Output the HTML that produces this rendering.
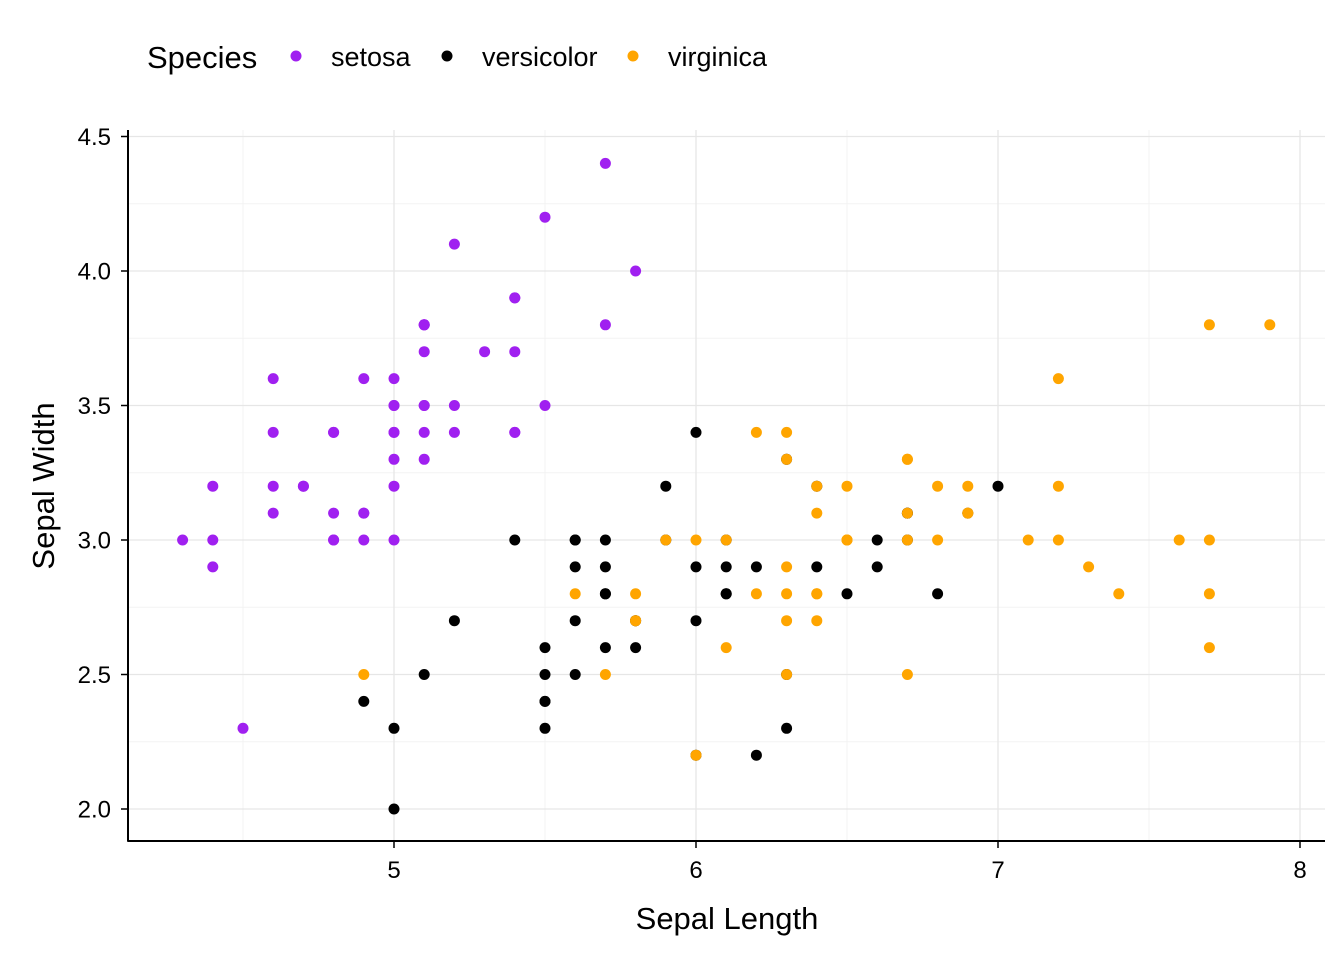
<!DOCTYPE html>
<html><head><meta charset="utf-8"><style>
html,body{margin:0;padding:0;background:#fff;}
svg{display:block;font-family:"Liberation Sans",Arial,sans-serif;}
</style></head><body>
<svg id="chart" width="1344" height="960">
  <g id="grid"></g>
  <g id="points"></g>
  <g id="axes"></g>
  <text x="727" y="929" font-size="31" text-anchor="middle" fill="#000">Sepal Length</text>
  <text transform="translate(54,486) rotate(-90)" font-size="31" text-anchor="middle" fill="#000">Sepal Width</text>
  <g>
    <text x="147" y="68" font-size="31" fill="#000">Species</text>
    <circle cx="296" cy="56" r="5.5" fill="#A020F0"/>
    <text x="331" y="66" font-size="27" fill="#000">setosa</text>
    <circle cx="447" cy="56" r="5.5" fill="#000"/>
    <text x="482" y="66" font-size="27" fill="#000">versicolor</text>
    <circle cx="633" cy="56" r="5.5" fill="#FFA500"/>
    <text x="668" y="66" font-size="27" fill="#000">virginica</text>
  </g>
</svg>
<script>
const species = ["setosa","versicolor","virginica"];
const speciesColors = ["#A020F0","#000000","#FFA500"];
const setosaLength = [5.1,4.9,4.7,4.6,5.0,5.4,4.6,5.0,4.4,4.9,5.4,4.8,4.8,4.3,5.8,5.7,5.4,5.1,5.7,5.1,5.4,5.1,4.6,5.1,4.8,5.0,5.0,5.2,5.2,4.7,4.8,5.4,5.2,5.5,4.9,5.0,5.5,4.9,4.4,5.1,5.0,4.5,4.4,5.0,5.1,4.8,5.1,4.6,5.3,5.0];
const setosaWidth = [3.5,3.0,3.2,3.1,3.6,3.9,3.4,3.4,2.9,3.1,3.7,3.4,3.0,3.0,4.0,4.4,3.9,3.5,3.8,3.8,3.4,3.7,3.6,3.3,3.4,3.0,3.4,3.5,3.4,3.2,3.1,3.4,4.1,4.2,3.1,3.2,3.5,3.6,3.0,3.4,3.5,2.3,3.2,3.5,3.8,3.0,3.8,3.2,3.7,3.3];
const versicolorLength = [7.0,6.4,6.9,5.5,6.5,5.7,6.3,4.9,6.6,5.2,5.0,5.9,6.0,6.1,5.6,6.7,5.6,5.8,6.2,5.6,5.9,6.1,6.3,6.1,6.4,6.6,6.8,6.7,6.0,5.7,5.5,5.5,5.8,6.0,5.4,6.0,6.7,6.3,5.6,5.5,5.5,6.1,5.8,5.0,5.6,5.7,5.7,6.2,5.1,5.7];
const versicolorWidth = [3.2,3.2,3.1,2.3,2.8,2.8,3.3,2.4,2.9,2.7,2.0,3.0,2.2,2.9,2.9,3.1,3.0,2.7,2.2,2.5,3.2,2.8,2.5,2.8,2.9,3.0,2.8,3.0,2.9,2.6,2.4,2.4,2.7,2.7,3.0,3.4,3.1,2.3,3.0,2.5,2.6,3.0,2.6,2.3,2.7,3.0,2.9,2.9,2.5,2.8];
const virginicaLength = [6.3,5.8,7.1,6.3,6.5,7.6,4.9,7.3,6.7,7.2,6.5,6.4,6.8,5.7,5.8,6.4,6.5,7.7,7.7,6.0,6.9,5.6,7.7,6.3,6.7,7.2,6.2,6.1,6.4,7.2,7.4,7.9,6.4,6.3,6.1,7.7,6.3,6.4,6.0,6.9,6.7,6.9,5.8,6.8,6.7,6.7,6.3,6.5,6.2,5.9];
const virginicaWidth = [3.3,2.7,3.0,2.9,3.0,3.0,2.5,2.9,2.5,3.6,3.2,2.7,3.0,2.5,2.8,3.2,3.0,3.8,2.6,2.2,3.2,2.8,2.8,2.7,3.3,3.2,2.8,3.0,2.8,3.0,2.8,3.8,2.8,2.8,2.6,3.0,3.4,3.1,3.0,3.1,3.1,3.1,2.7,3.2,3.3,3.0,2.5,3.0,3.4,3.0];
const xTicks = [5,6,7,8];
const xTickLabels = ["5","6","7","8"];
const xMinor = [4.5,5.5,6.5,7.5];
const yTicks = [2.0,2.5,3.0,3.5,4.0,4.5];
const yTickLabels = ["2.0","2.5","3.0","3.5","4.0","4.5"];
const yMinor = [2.25,2.75,3.25,3.75,4.25];

const NS="http://www.w3.org/2000/svg";
const L=128,R=1325,T=130,B=841;
function sx(v){return 394+(v-5)*302;}
function sy(v){return 540-(v-3)*269;}
function mk(tag,attrs,parent){const e=document.createElementNS(NS,tag);for(const k in attrs)e.setAttribute(k,attrs[k]);parent.appendChild(e);return e;}
const grid=document.getElementById('grid'),pts=document.getElementById('points'),axes=document.getElementById('axes');
xMinor.forEach(v=>{const e=mk('line',{x1:sx(v),x2:sx(v),y1:T,y2:B,stroke:'#f3f3f3','stroke-width':1},grid);

});
yMinor.forEach(v=>{const e=mk('line',{x1:L,x2:R,y1:sy(v),y2:sy(v),stroke:'#f3f3f3','stroke-width':1},grid);

});
xTicks.forEach((v,i)=>{const e=mk('line',{x1:sx(v),x2:sx(v),y1:T,y2:B,stroke:'#e6e6e6','stroke-width':1.3},grid);


const t=mk('line',{x1:sx(v),x2:sx(v),y1:B,y2:B+7,stroke:'#000','stroke-width':1.5},axes);


const l=mk('text',{x:sx(v),y:878,'font-size':24,'text-anchor':'middle',fill:'#000'},axes);l.textContent=xTickLabels[i];

});
yTicks.forEach((v,i)=>{const e=mk('line',{x1:L,x2:R,y1:sy(v),y2:sy(v),stroke:'#e6e6e6','stroke-width':1.3},grid);


const t=mk('line',{x1:L-7,x2:L,y1:sy(v),y2:sy(v),stroke:'#000','stroke-width':1.5},axes);


const l=mk('text',{x:111,y:sy(v)+8.5,'font-size':24,'text-anchor':'end',fill:'#000'},axes);l.textContent=yTickLabels[i];

});
const ax1=mk('line',{x1:L,x2:L,y1:T,y2:B+0.75,stroke:'#000','stroke-width':2},axes);


const ax2=mk('line',{x1:L,x2:R,y1:B,y2:B,stroke:'#000','stroke-width':2},axes);


const xs=[setosaLength,versicolorLength,virginicaLength],ys=[setosaWidth,versicolorWidth,virginicaWidth];
species.forEach((s,k)=>{xs[k].forEach((x,i)=>{const c=mk('circle',{cx:sx(x),cy:sy(ys[k][i]),r:5.5,fill:speciesColors[k]},pts);

});});
</script>
</body></html>
